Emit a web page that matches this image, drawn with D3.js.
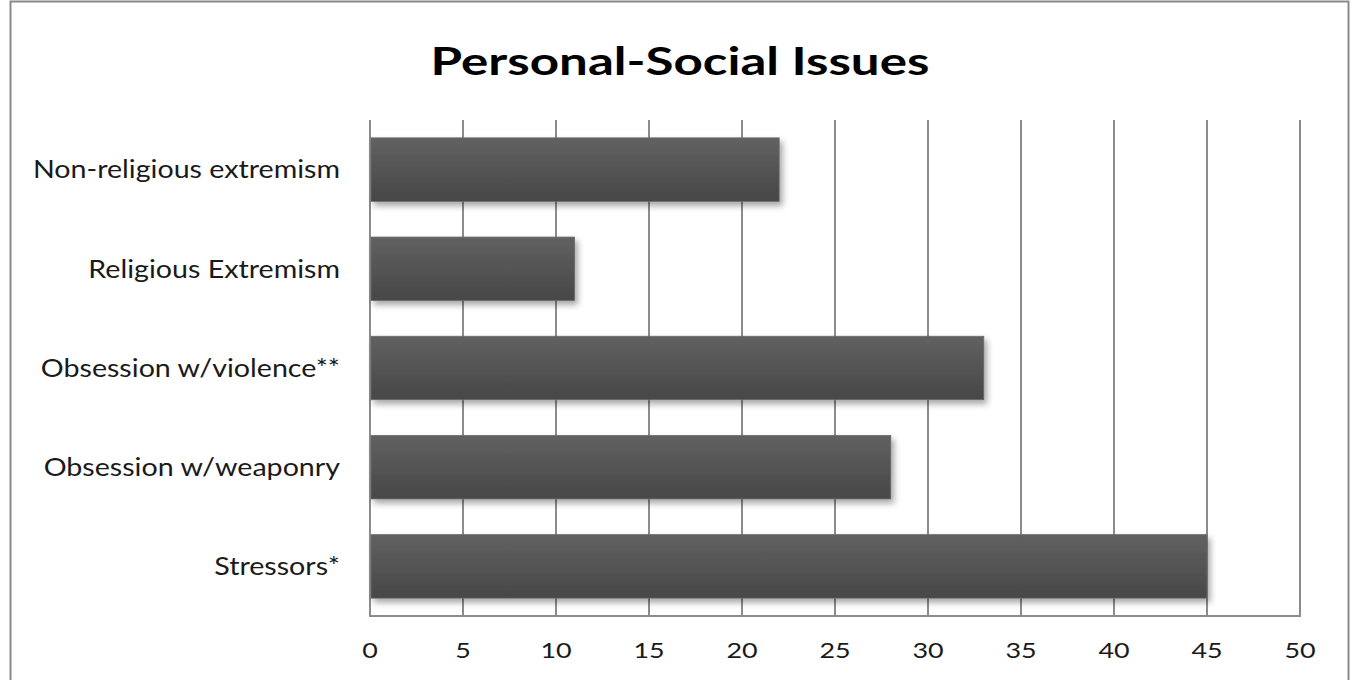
<!DOCTYPE html>
<html>
<head>
<meta charset="utf-8">
<script src="https://cdn.jsdelivr.net/npm/d3@7"></script>
<style>
  html, body { margin: 0; padding: 0; background: #fff; }
  svg { display: block; }
  text { font-family: Lato, "Open Sans", sans-serif; fill: #1a1a1a; }
</style>
</head>
<body>
<svg id="chart" width="1351" height="680"></svg>
<script>
// Chart data
const categories = [
  "Non-religious extremism",
  "Religious Extremism",
  "Obsession w/violence**",
  "Obsession w/weaponry",
  "Stressors*"
];
const values = [22, 11, 33, 28, 45];
const tickValues = [0, 5, 10, 15, 20, 25, 30, 35, 40, 45, 50];
const title = "Personal-Social Issues";

const W = 1351, H = 680;
const plot = { left: 370, right: 1300, top: 120, bottom: 616 };

const svg = d3.select("#chart");

// outer frame
svg.append("rect")
  .attr("x", 10.5).attr("y", 1.5)
  .attr("width", W - 13).attr("height", H + 10)
  .attr("fill", "none").attr("stroke", "#8a8a8a").attr("stroke-width", 2);

const defs = svg.append("defs");
const grad = defs.append("linearGradient")
  .attr("id", "barGrad").attr("x1", 0).attr("y1", 0).attr("x2", 0).attr("y2", 1);
grad.append("stop").attr("offset", "0%").attr("stop-color", "#616161");
grad.append("stop").attr("offset", "100%").attr("stop-color", "#474747");

const shadow = defs.append("filter").attr("id", "barShadow")
  .attr("x", "-5%").attr("y", "-20%").attr("width", "115%").attr("height", "160%");
shadow.append("feDropShadow")
  .attr("dx", 3).attr("dy", 4).attr("stdDeviation", 3)
  .attr("flood-color", "#000").attr("flood-opacity", 0.35);

const x = d3.scaleLinear().domain([0, 50]).range([plot.left, plot.right]);
const y = d3.scaleBand().domain(categories)
  .range([plot.top, plot.bottom]).paddingInner(0.36).paddingOuter(0.18);

// vertical gridlines
svg.append("g").selectAll("line")
  .data(tickValues)
  .join("line")
  .attr("x1", d => x(d)).attr("x2", d => x(d))
  .attr("y1", plot.top).attr("y2", plot.bottom)
  .attr("stroke", "#8c8c8c").attr("stroke-width", 2);

// bottom axis line
svg.append("line")
  .attr("x1", plot.left - 1).attr("x2", plot.right + 1)
  .attr("y1", plot.bottom).attr("y2", plot.bottom)
  .attr("stroke", "#8c8c8c").attr("stroke-width", 2);

// bars
svg.append("g").selectAll("rect")
  .data(categories)
  .join("rect")
  .attr("x", x(0) + 1)
  .attr("y", d => y(d))
  .attr("width", (d, i) => x(values[i]) - x(0) - 1)
  .attr("height", y.bandwidth())
  .attr("fill", "url(#barGrad)")
  .attr("stroke", "#6a6a6a").attr("stroke-width", 0.8)
  .attr("filter", "url(#barShadow)");

// text is set in a slightly widened face
const wideText = (sel, sx) => sel.attr("transform", function () {
  const tx = +this.getAttribute("data-x"), ty = +this.getAttribute("data-y");
  return `translate(${tx},${ty}) scale(${sx},1)`;
});

// x tick labels
svg.append("g").selectAll("text")
  .data(tickValues)
  .join("text")
  .attr("data-x", d => x(d)).attr("data-y", 658)
  .attr("text-anchor", "middle")
  .style("font-size", "21px")
  .text(d => d)
  .call(wideText, 1.28);

// category labels
svg.append("g").selectAll("text")
  .data(categories)
  .join("text")
  .attr("data-x", 340)
  .attr("data-y", d => y(d) + y.bandwidth() / 2)
  .attr("dy", "0.35em")
  .attr("text-anchor", "end")
  .style("font-size", "25px")
  .text(d => d)
  .call(wideText, 1.145);

// title
svg.append("text")
  .attr("data-x", 680).attr("data-y", 75)
  .attr("text-anchor", "middle")
  .style("font-size", "39px").style("font-weight", "bold")
  .style("fill", "#000")
  .text(title)
  .call(wideText, 1.31);
</script>
</body>
</html>
